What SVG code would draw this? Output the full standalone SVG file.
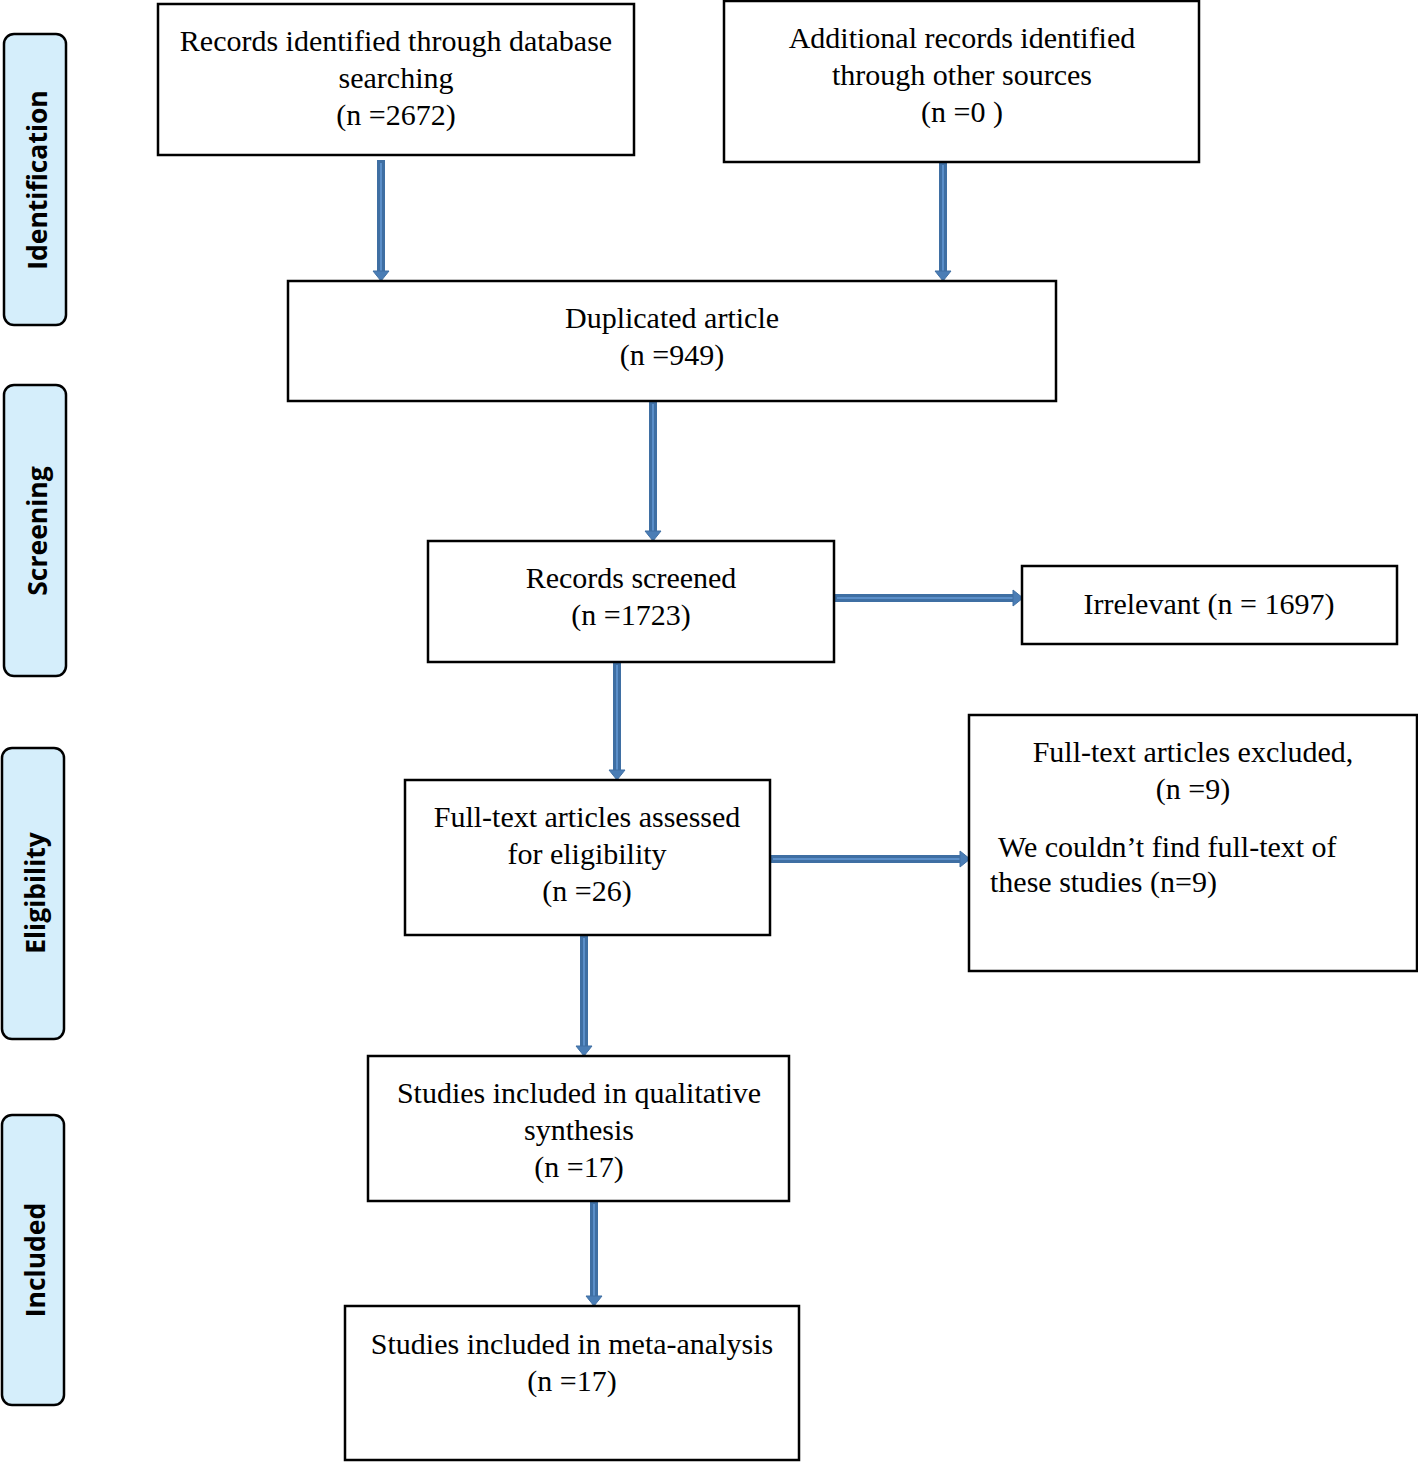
<svg xmlns="http://www.w3.org/2000/svg" width="1418" height="1462" viewBox="0 0 1418 1462">
<defs>
<style>
.box{fill:#fff;stroke:#000;stroke-width:2.5}
.side{fill:#d5eefb;stroke:#000;stroke-width:2.5}
.t{font-family:"Liberation Serif","Times New Roman",serif;font-size:30px;fill:#000;text-anchor:middle}
.tl{font-family:"Liberation Serif","Times New Roman",serif;font-size:30px;fill:#000}
.s{font-family:"Open Sans","Liberation Sans",sans-serif;font-weight:bold;font-size:26.5px;fill:#000;text-anchor:middle}
.sh{stroke:#3f6fa3;stroke-width:8;fill:none}
.sc{stroke:#5b8fc9;stroke-width:2;fill:none}
.ah{fill:#4a7db5;stroke:#3f6fa3;stroke-width:1}
</style>
</defs>
<rect width="1418" height="1462" fill="#fff"/>
<g id="side-identification"><rect class="side" x="4" y="34" width="62" height="291" rx="10"/><text class="s" transform="translate(47,180) rotate(-90)">Identification</text></g>
<g id="side-screening"><rect class="side" x="4" y="385" width="62" height="291" rx="10"/><text class="s" transform="translate(47,531) rotate(-90)">Screening</text></g>
<g id="side-eligibility"><rect class="side" x="2" y="748" width="62" height="291" rx="10"/><text class="s" transform="translate(45,893) rotate(-90)">Eligibility</text></g>
<g id="side-included"><rect class="side" x="2" y="1115" width="62" height="290" rx="10"/><text class="s" transform="translate(45,1260) rotate(-90)">Included</text></g>

<g id="connectors">
<g id="a1"><line class="sh" x1="381" y1="160" x2="381" y2="271"/><line class="sc" x1="381" y1="163" x2="381" y2="271"/><polygon class="ah" points="373,271 389,271 381,281"/></g>
<g id="a2"><line class="sh" x1="943" y1="162" x2="943" y2="271"/><line class="sc" x1="943" y1="165" x2="943" y2="271"/><polygon class="ah" points="935,271 951,271 943,281"/></g>
<g id="a3"><line class="sh" x1="653" y1="401" x2="653" y2="531"/><line class="sc" x1="653" y1="404" x2="653" y2="531"/><polygon class="ah" points="645,531 661,531 653,541"/></g>
<g id="a4"><line class="sh" x1="834" y1="598" x2="1013" y2="598"/><line class="sc" x1="837" y1="598" x2="1013" y2="598"/><polygon class="ah" points="1013,590 1013,606 1023,598"/></g>
<g id="a5"><line class="sh" x1="617" y1="662" x2="617" y2="770"/><line class="sc" x1="617" y1="665" x2="617" y2="770"/><polygon class="ah" points="609,770 625,770 617,780"/></g>
<g id="a6"><line class="sh" x1="770" y1="859" x2="960" y2="859"/><line class="sc" x1="773" y1="859" x2="960" y2="859"/><polygon class="ah" points="960,851 960,867 970,859"/></g>
<g id="a7"><line class="sh" x1="584" y1="935" x2="584" y2="1046"/><line class="sc" x1="584" y1="938" x2="584" y2="1046"/><polygon class="ah" points="576,1046 592,1046 584,1056"/></g>
<g id="a8"><line class="sh" x1="594" y1="1201" x2="594" y2="1296"/><line class="sc" x1="594" y1="1204" x2="594" y2="1296"/><polygon class="ah" points="586,1296 602,1296 594,1306"/></g>
</g>

<g id="n1"><rect class="box" x="158" y="4" width="476" height="151"/>
<text class="t" x="396" y="51">Records identified through database</text>
<text class="t" x="396" y="88">searching</text>
<text class="t" x="396" y="125">(n =2672)</text></g>
<g id="n2"><rect class="box" x="724" y="1" width="475" height="161"/>
<text class="t" x="962" y="48">Additional records identified</text>
<text class="t" x="962" y="85">through other sources</text>
<text class="t" x="962" y="122">(n =0 )</text></g>
<g id="n3"><rect class="box" x="288" y="281" width="768" height="120"/>
<text class="t" x="672" y="328">Duplicated article</text>
<text class="t" x="672" y="365">(n =949)</text></g>
<g id="n4"><rect class="box" x="428" y="541" width="406" height="121"/>
<text class="t" x="631" y="588">Records screened</text>
<text class="t" x="631" y="625">(n =1723)</text></g>
<g id="n5"><rect class="box" x="1022" y="566" width="375" height="78"/>
<text class="t" x="1209" y="614">Irrelevant (n = 1697)</text></g>
<g id="n6"><rect class="box" x="405" y="780" width="365" height="155"/>
<text class="t" x="587" y="827">Full-text articles assessed</text>
<text class="t" x="587" y="864">for eligibility</text>
<text class="t" x="587" y="901">(n =26)</text></g>
<g id="n7"><rect class="box" x="969" y="715" width="448" height="256"/>
<text class="t" x="1193" y="762">Full-text articles excluded,</text>
<text class="t" x="1193" y="799">(n =9)</text>
<text class="tl" x="998" y="857">We couldn’t find full-text of</text>
<text class="tl" x="990" y="892">these studies (n=9)</text></g>
<g id="n8"><rect class="box" x="368" y="1056" width="421" height="145"/>
<text class="t" x="579" y="1103">Studies included in qualitative</text>
<text class="t" x="579" y="1140">synthesis</text>
<text class="t" x="579" y="1177">(n =17)</text></g>
<g id="n9"><rect class="box" x="345" y="1306" width="454" height="154"/>
<text class="t" x="572" y="1354">Studies included in meta-analysis</text>
<text class="t" x="572" y="1391">(n =17)</text></g>
</svg>
